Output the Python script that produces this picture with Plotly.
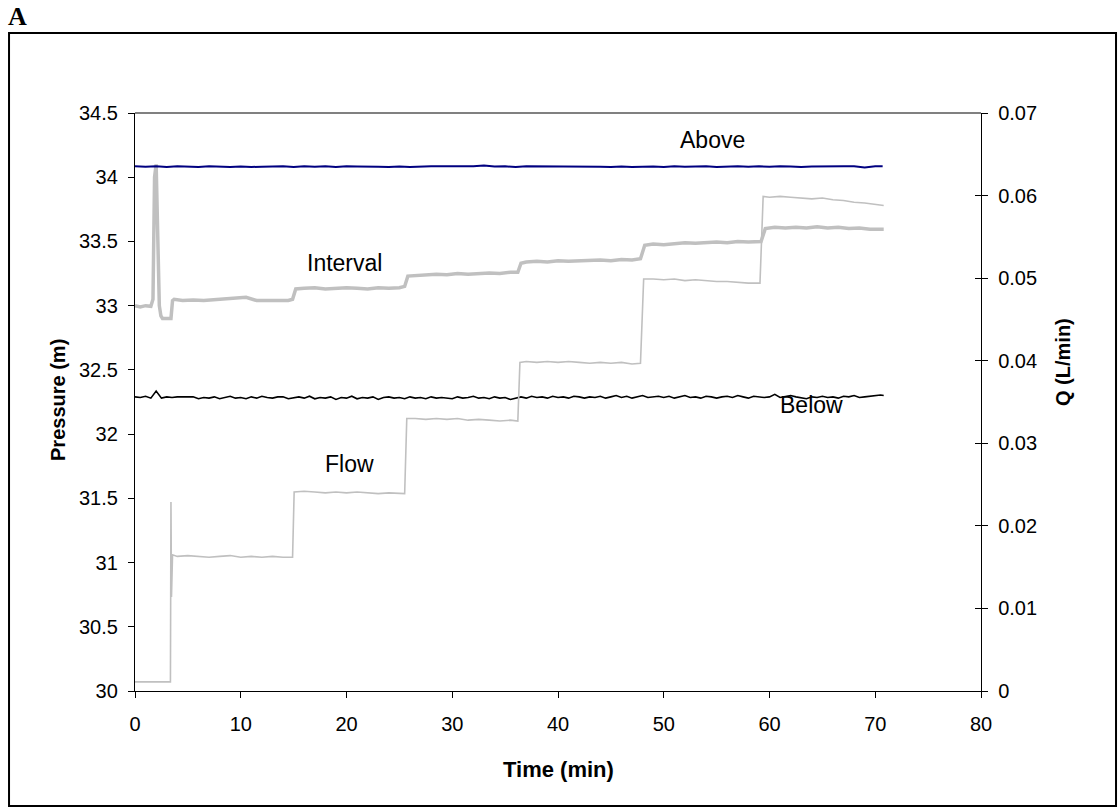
import plotly.graph_objects as go

# ---------------- data ----------------
ABOVE_T = list(range(0, 71)) + [70.7]
ABOVE_P = [34.085, 34.081, 34.085, 34.079, 34.085, 34.083, 34.08, 34.085, 34.081, 34.079,
           34.084, 34.08, 34.082, 34.085, 34.085, 34.08, 34.085, 34.081, 34.085, 34.079,
           34.085, 34.084, 34.08, 34.081, 34.079, 34.083, 34.08, 34.085, 34.085, 34.085,
           34.085, 34.082, 34.086, 34.091, 34.083, 34.085, 34.079, 34.085, 34.085, 34.081,
           34.085, 34.08, 34.082, 34.08, 34.081, 34.079, 34.083, 34.08, 34.082, 34.084,
           34.08, 34.085, 34.081, 34.085, 34.085, 34.08, 34.085, 34.085, 34.082, 34.085,
           34.081, 34.085, 34.083, 34.08, 34.083, 34.085, 34.085, 34.085, 34.085, 34.076,
           34.085, 34.085]

BELOW_T = [i * 0.5 for i in range(142)] + [70.8]
BELOW_P = [32.29, 32.285, 32.295, 32.28, 32.335, 32.28, 32.29, 32.285, 32.29, 32.29,
           32.29, 32.29, 32.275, 32.285, 32.28, 32.29, 32.275, 32.285, 32.295, 32.28,
           32.285, 32.275, 32.29, 32.28, 32.295, 32.285, 32.28, 32.29, 32.29, 32.275,
           32.285, 32.29, 32.28, 32.295, 32.275, 32.285, 32.28, 32.29, 32.27, 32.285,
           32.28, 32.295, 32.275, 32.285, 32.28, 32.29, 32.27, 32.285, 32.29, 32.28,
           32.285, 32.275, 32.29, 32.28, 32.285, 32.275, 32.29, 32.28, 32.285, 32.28,
           32.275, 32.29, 32.28, 32.285, 32.295, 32.28, 32.285, 32.275, 32.29, 32.28,
           32.285, 32.27, 32.28, 32.29, 32.28, 32.295, 32.285, 32.29, 32.28, 32.295,
           32.285, 32.29, 32.28, 32.295, 32.29, 32.28, 32.29, 32.285, 32.295, 32.28,
           32.29, 32.3, 32.285, 32.295, 32.28, 32.29, 32.3, 32.285, 32.29, 32.295,
           32.285, 32.295, 32.28, 32.29, 32.3, 32.285, 32.29, 32.28, 32.295, 32.29,
           32.28, 32.29, 32.295, 32.285, 32.3, 32.29, 32.28, 32.295, 32.29, 32.285,
           32.29, 32.31, 32.285, 32.295, 32.3, 32.29, 32.285, 32.275, 32.29, 32.285,
           32.295, 32.285, 32.29, 32.28, 32.295, 32.29, 32.3, 32.285, 32.29, 32.295,
           32.3, 32.305, 32.3]

INTERVAL_T = [0, 0.5, 1.0, 1.5, 1.7, 1.85, 2.0, 2.15, 2.3, 2.45, 2.6, 3.0, 3.4, 3.55, 3.7,
              4.5, 5.5, 6.5, 7.5, 8.5, 9.5, 10.5, 11.5, 12.5, 13.5, 14.5, 14.9, 15.2,
              16, 17, 18, 19, 20, 21, 22, 23, 24, 25, 25.5, 25.8,
              26.5, 27.5, 28.5, 29.5, 30.5, 31.5, 32.5, 33.5, 34.5, 35.5, 36.2, 36.5,
              37, 38, 39, 40, 41, 42, 43, 44, 45, 46, 47, 47.8, 48.2,
              49, 50, 51, 52, 53, 54, 55, 56, 57, 58, 59.2, 59.6,
              60.5, 61.5, 62.5, 63.5, 64.5, 65.5, 66.5, 67.5, 68.5, 69.5, 70.8]
INTERVAL_P = [33.0, 32.99, 33.0, 32.995, 33.05, 34.0, 34.1, 33.6, 33.0, 32.92, 32.9, 32.9, 32.9, 33.04, 33.05,
              33.04, 33.045, 33.04, 33.045, 33.05, 33.055, 33.065, 33.04, 33.04, 33.045, 33.04, 33.05, 33.13,
              33.135, 33.14, 33.13, 33.135, 33.14, 33.135, 33.13, 33.14, 33.135, 33.14, 33.15, 33.23,
              33.235, 33.24, 33.245, 33.24, 33.25, 33.245, 33.25, 33.255, 33.25, 33.26, 33.26, 33.33,
              33.34, 33.345, 33.34, 33.35, 33.345, 33.35, 33.35, 33.355, 33.35, 33.36, 33.355, 33.365, 33.47,
              33.48, 33.475, 33.48, 33.49, 33.485, 33.49, 33.495, 33.49, 33.5, 33.495, 33.5, 33.6,
              33.61, 33.605, 33.61, 33.605, 33.615, 33.605, 33.61, 33.6, 33.605, 33.595, 33.595]

FLOW_T = [0, 1, 2, 3, 3.35, 3.4, 3.45, 3.55, 4, 5, 6, 7, 8, 9, 10, 11, 12, 13, 14, 14.9, 15.05,
          16, 17, 18, 19, 20, 21, 22, 23, 24, 25.5, 25.7,
          26.5, 27.5, 28.5, 29.5, 30.5, 31.5, 32.5, 33.5, 34.5, 35.5, 36.2, 36.4,
          37, 38, 39, 40, 41, 42, 43, 44, 45, 46, 47, 47.8, 48.1,
          49, 50, 51, 52, 53, 54, 55, 56, 57, 58, 59.1, 59.4,
          60, 61, 62, 63, 64, 65, 66, 67, 68, 69, 70, 70.8]
FLOW_Q = [0.0011, 0.0011, 0.0011, 0.0011, 0.0011, 0.0229, 0.0114, 0.0165, 0.0163, 0.0164, 0.0163,
          0.0162, 0.0163, 0.0164, 0.0162, 0.0163, 0.0162, 0.0163, 0.0162, 0.0162, 0.0241,
          0.0242, 0.0241, 0.0240, 0.0241, 0.0240, 0.0241, 0.0240, 0.0239, 0.0240, 0.0239, 0.0330,
          0.0330, 0.0329, 0.0330, 0.0329, 0.0330, 0.0328, 0.0329, 0.0328, 0.0327, 0.0328, 0.0327, 0.0398,
          0.0399, 0.0398, 0.0399, 0.0398, 0.0399, 0.0398, 0.0397, 0.0398, 0.0397, 0.0398, 0.0396, 0.0397, 0.0499,
          0.0499, 0.0498, 0.0499, 0.0497, 0.0498, 0.0497, 0.0496, 0.0496, 0.0495, 0.0494, 0.0494, 0.0599,
          0.0598, 0.0599, 0.0598, 0.0597, 0.0596, 0.0597, 0.0595, 0.0594, 0.0592, 0.0591, 0.0589, 0.0588]

X_TICKS = [0, 10, 20, 30, 40, 50, 60, 70, 80]
P_TICKS = [30, 30.5, 31, 31.5, 32, 32.5, 33, 33.5, 34, 34.5]
Q_TICKS = [0, 0.01, 0.02, 0.03, 0.04, 0.05, 0.06, 0.07]

# ---------------- figure ----------------
FONT = "Liberation Sans, Arial, sans-serif"
GRAY = "#c0c0c0"

fig = go.Figure()
fig.add_trace(go.Scatter(x=INTERVAL_T, y=INTERVAL_P, mode="lines", name="Interval",
                         line=dict(color=GRAY, width=3.5)))
fig.add_trace(go.Scatter(x=FLOW_T, y=FLOW_Q, mode="lines", name="Flow", yaxis="y2",
                         line=dict(color=GRAY, width=1.6)))
fig.add_trace(go.Scatter(x=BELOW_T, y=BELOW_P, mode="lines", name="Below",
                         line=dict(color="black", width=1.6)))
fig.add_trace(go.Scatter(x=ABOVE_T, y=ABOVE_P, mode="lines", name="Above",
                         line=dict(color="#000080", width=2)))
# helper axis for inward right ticks (crossing ticks)
fig.add_trace(go.Scatter(x=[None], y=[None], yaxis="y3", showlegend=False, hoverinfo="skip"))

axis_common = dict(showgrid=False, zeroline=False, showline=True, linecolor="black",
                   linewidth=1.3, ticks="outside", ticklen=6, tickcolor="black",
                   tickfont=dict(family=FONT, size=20, color="black"))

fig.update_layout(
    width=1119, height=809,
    margin=dict(l=135, r=138, t=113, b=118),
    paper_bgcolor="white", plot_bgcolor="white",
    showlegend=False,
    title=dict(text="A", x=8 / 1119, xanchor="left", y=1 - 7 / 809, yanchor="top",
               font=dict(family="Liberation Serif, Times New Roman, serif", size=26,
                         color="black", weight="bold")),
    xaxis=dict(range=[0, 80], tickvals=X_TICKS, ticklabelstandoff=9, **axis_common),
    yaxis=dict(range=[30, 34.5], tickvals=P_TICKS, ticklabelstandoff=6, **axis_common),
    yaxis2=dict(range=[0, 0.07], tickvals=Q_TICKS, overlaying="y", side="right",
                anchor="x", ticklabelstandoff=6, **axis_common),
    yaxis3=dict(range=[0, 0.07], tickvals=Q_TICKS, overlaying="y", side="right",
                anchor="x", showgrid=False, zeroline=False, showline=False,
                ticks="inside", ticklen=6, tickcolor="black", showticklabels=False),
)

# plot-area top border and outer frame
fig.add_shape(type="line", xref="paper", yref="paper", x0=0, x1=1, y0=1, y1=1,
              line=dict(color="#808080", width=2))
fig.add_shape(type="rect", xref="paper", yref="paper",
              x0=-0.1489, x1=1.1596, y0=-0.199, y1=1.1384,
              line=dict(color="black", width=2))

ann = dict(showarrow=False, xanchor="center", yanchor="middle",
           font=dict(family=FONT, size=23, color="black"))
fig.add_annotation(x=54.6, y=34.29, text="Above", **ann)
fig.add_annotation(x=19.8, y=33.33, text="Interval", **ann)
fig.add_annotation(x=64.0, y=32.227, text="Below", **ann)
fig.add_annotation(x=20.3, y=31.77, text="Flow", **ann)

title_font = dict(family=FONT, size=20, color="black", weight="bold")
fig.add_annotation(xref="paper", yref="paper", x=(58 - 135) / 846, y=0.5035, text="Pressure (m)",
                   textangle=-90, showarrow=False, xanchor="center", yanchor="middle",
                   font=title_font)
fig.add_annotation(xref="paper", yref="paper", x=(1063 - 135) / 846, y=(691 - 362) / 578,
                   text="Q (L/min)", textangle=-90, showarrow=False,
                   xanchor="center", yanchor="middle", font=title_font)
fig.add_annotation(xref="paper", yref="paper", x=(558 - 135) / 846, y=(691 - 769) / 578,
                   text="Time (min)", showarrow=False, xanchor="center", yanchor="middle",
                   font=dict(family=FONT, size=22, color="black", weight="bold"))

fig.write_html("out.html")
